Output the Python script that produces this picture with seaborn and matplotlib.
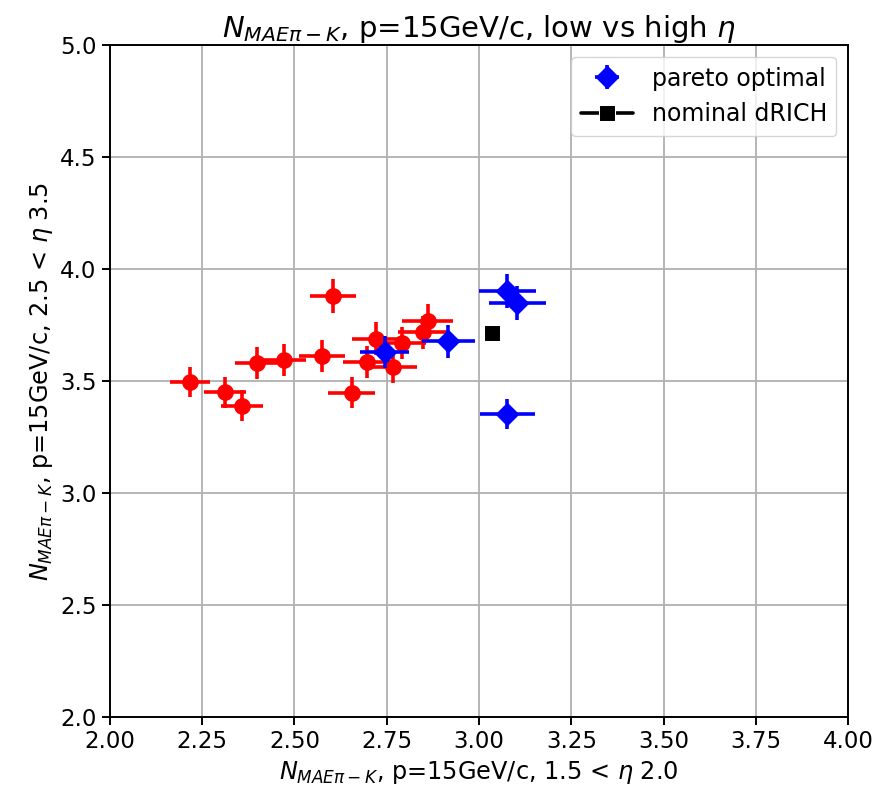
import seaborn as sns
import matplotlib
matplotlib.use("Agg")
import matplotlib.pyplot as plt

# all designs (red)
x_all = [2.217, 2.311, 2.357, 2.398, 2.471, 2.574, 2.605, 2.655, 2.697, 2.721, 2.766, 2.790, 2.848, 2.861]
y_all = [3.496, 3.451, 3.391, 3.582, 3.596, 3.611, 3.879, 3.448, 3.585, 3.690, 3.563, 3.670, 3.719, 3.769]
xerr_all = [0.054, 0.057, 0.057, 0.058, 0.060, 0.062, 0.063, 0.064, 0.065, 0.066, 0.067, 0.067, 0.068, 0.069]
yerr_all = [0.069, 0.069, 0.068, 0.071, 0.071, 0.072, 0.077, 0.069, 0.071, 0.073, 0.071, 0.073, 0.074, 0.075]

# pareto optimal designs (blue)
x_par = [2.744, 2.917, 3.077, 3.104, 3.077]
y_par = [3.630, 3.678, 3.903, 3.849, 3.354]
xerr_par = [0.066, 0.071, 0.076, 0.077, 0.075]
yerr_par = [0.072, 0.073, 0.077, 0.076, 0.068]

# nominal dRICH
x_nom = [3.034]
y_nom = [3.717]

sns.set_style("ticks", {"axes.grid": True, "grid.color": "#b0b0b0",
                        "axes.edgecolor": "black", "xtick.color": "black",
                        "ytick.color": "black", "text.color": "black",
                        "axes.labelcolor": "black"})
plt.rcParams['font.family'] = ['DejaVu Sans']

fig, ax = plt.subplots(figsize=(8.79, 7.94), dpi=100)
fig.subplots_adjust(left=0.125, right=0.965, top=0.943, bottom=0.097)

ax.errorbar(x_all, y_all, xerr=xerr_all, yerr=yerr_all, fmt='o', color='red',
            markersize=11, elinewidth=2.6, capsize=0, zorder=3)
ax.errorbar(x_par, y_par, xerr=xerr_par, yerr=yerr_par, fmt='D', color='blue',
            markersize=11, elinewidth=2.6, capsize=0, zorder=4, label='pareto optimal')
sns.lineplot(x=x_nom, y=y_nom, ax=ax, color='black', marker='s', markersize=11,
             linewidth=2.6, label='nominal dRICH', zorder=5)

ax.set_xlim(2.0, 4.0)
ax.set_ylim(2.0, 5.0)
ax.set_xticks([2.0, 2.25, 2.5, 2.75, 3.0, 3.25, 3.5, 3.75, 4.0])
ax.set_yticks([2.0, 2.5, 3.0, 3.5, 4.0, 4.5, 5.0])
ax.tick_params(labelsize=16.5, length=6, width=1.4)
for s in ax.spines.values():
    s.set_linewidth(1.4)
ax.grid(True, linewidth=1.3)

ax.set_title(r'$N_{MAE\pi-K}$, p=15GeV/c, low vs high $\eta$', fontsize=21)
ax.set_xlabel(r'$N_{MAE\pi-K}$, p=15GeV/c, 1.5 < $\eta$ 2.0', fontsize=17.3)
ax.set_ylabel(r'$N_{MAE\pi-K}$, p=15GeV/c, 2.5 < $\eta$ 3.5', fontsize=17.3)

handles, labels = ax.get_legend_handles_labels()
order = [labels.index('pareto optimal'), labels.index('nominal dRICH')]
ax.legend([handles[i] for i in order], [labels[i] for i in order],
          loc='upper right', fontsize=17, handlelength=2.2)

fig.savefig('out.png', dpi=100)
